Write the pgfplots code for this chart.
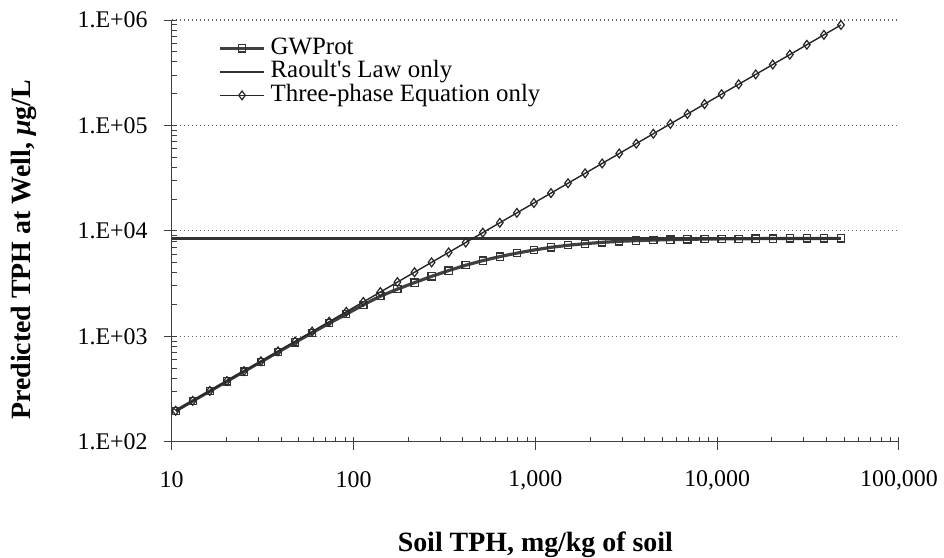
\documentclass[border=0pt]{standalone}
\usepackage{fontspec}
\setmainfont{Liberation Serif}
\usepackage{pgfplots}
\usepackage{pgfplotstable}
\pgfplotsset{compat=1.18}

% Soil TPH (mg/kg) against predicted TPH at the well (ug/L)
\pgfplotstableread{
x      y
10.52  196
13.05  243
16.20  301
20.11  374
24.97  463
30.98  572
38.45  708
47.72  875
59.24  1080
73.52  1330
91.25  1620
113.2  1990
140.5  2400
174.4  2800
216.5  3230
268.7  3700
333.5  4200
413.9  4720
513.8  5220
637.6  5700
791.3  6150
982.2  6580
1219   6980
1513   7300
1878   7560
2331   7780
2893   7954
3591   8080
4457   8179
5531   8255
6865   8313
8520   8358
10574  8392
13122  8418
16290  8438
20220  8453
25090  8465
31140  8473
38650  8480
47970  8485
}\gwprot

\pgfplotstableread{
x      y
10.52  196.8
13.05  244.2
16.20  303.1
20.11  376.3
24.97  467.2
30.98  579.6
38.45  719.4
47.72  892.8
59.24  1108
73.52  1376
91.25  1707
113.2  2118
140.5  2629
174.4  3263
216.5  4051
268.7  5027
333.5  6240
413.9  7744
513.8  9613
637.6  11930
791.3  14805
982.2  18377
1219   22807
1513   28308
1878   35137
2331   43613
2893   54128
3591   67188
4457   83390
5531   103485
6865   128444
8520   159409
10574  197840
13122  245513
16290  304786
20220  378316
25090  469434
31140  582629
38650  723142
47970  897519
}\threephase

\pgfplotstableread{
x      y
10     8500
47970  8500
}\raoult

\begin{document}
\begin{tikzpicture}
\useasboundingbox (-85.85bp,-58.15bp) rectangle (386.15bp,220.85bp);
\begin{axis}[
  at={(0,0)}, anchor=south west,
  width=363.65bp, height=210.85bp, scale only axis,
  xmode=log, ymode=log,
  xmin=10, xmax=100000, ymin=100, ymax=1000000,
  axis x line*=bottom, axis y line*=left,
  axis line style={line width=0.6bp, black!75},
  xtick={10,100,1000,10000,100000},
  xticklabels={10,100,{1,000},{10,000},{100,000}},
  ytick={100,1000,10000,100000,1000000},
  yticklabels={1.E+02,1.E+03,1.E+04,1.E+05,1.E+06},
  minor xtick={20,30,40,50,60,70,80,90,200,300,400,500,600,700,800,900,2000,3000,4000,5000,6000,7000,8000,9000,20000,30000,40000,50000,60000,70000,80000,90000},
  minor ytick={200,300,400,500,600,700,800,900,2000,3000,4000,5000,6000,7000,8000,9000,20000,30000,40000,50000,60000,70000,80000,90000,200000,300000,400000,500000,600000,700000,800000,900000},
  tick style={black!75, line width=0.5bp},
  tick align=inside,
  major tick length=2.5bp, minor tick length=2.5bp,
  extra x ticks={10,100,1000,10000,100000}, extra x tick labels={},
  extra y ticks={100,1000,10000,100000,1000000}, extra y tick labels={},
  extra tick style={tick align=outside, major tick length=4bp, grid=none},
  ymajorgrids,
  grid style={black!60, line width=0.6bp, dash pattern=on 0.6bp off 1.4bp},
  tick label style={font=\fontsize{12}{14}\selectfont},
  xticklabel style={anchor=center, inner sep=0pt, yshift=-19.15bp},
  yticklabel style={anchor=east, inner sep=0pt, xshift=-11.85bp},
  xlabel={Soil TPH, mg/kg of soil},
  ylabel={Predicted TPH at Well, {\itshape μ}g/L},
  label style={font=\bfseries\fontsize{14}{16}\selectfont},
  xlabel style={at={(axis description cs:0.5,-0.245)}, anchor=center},
  ylabel style={at={(axis description cs:-0.203,0.4546)}, anchor=center},
  legend style={draw=none, fill=none, inner sep=0pt,
    at={(axis description cs:0.0637,0.9615)}, anchor=north west,
    font=\fontsize{12.5}{14}\selectfont,
    nodes={inner xsep=2.5bp, inner ysep=0bp, text height=8.75bp, text depth=3bp}},
  legend cell align=left,
  legend image code/.code={\draw[mark repeat=2,mark phase=2,#1] plot coordinates {(0bp,0bp) (11bp,0bp) (22bp,0bp)};},
]
\addplot[line width=1.6bp, black!75, mark=square, mark size=1.8bp,
  mark options={fill=white, line width=0.6bp, black!80}] table {\gwprot};
\addlegendentry{GWProt}
\addplot[line width=1.3bp, black!80, no marks] table {\raoult};
\addlegendentry{Raoult\textquotesingle s Law only}
\addplot[line width=0.7bp, black!85, mark=diamond, mark size=2.2bp,
  mark options={fill=white, line width=0.6bp}] table {\threephase};
\addlegendentry{Three-phase Equation only}
\end{axis}
\end{tikzpicture}
\end{document}
